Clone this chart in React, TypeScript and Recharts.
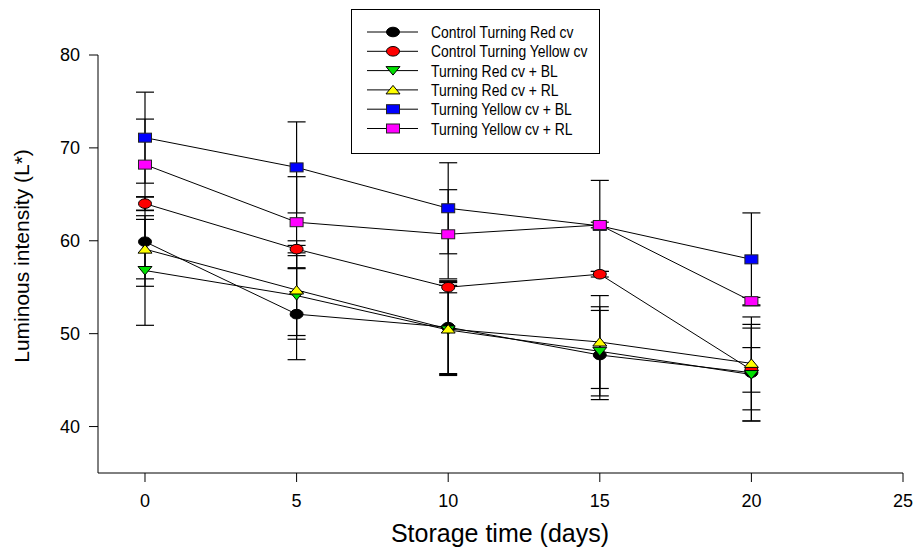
import React from "react";
import { LineChart, Line, XAxis, YAxis, ErrorBar, Legend, Label } from "recharts";

const days = [0, 5, 10, 15, 20];
const xTicks = [0, 5, 10, 15, 20, 25];
const yTicks = [40, 50, 60, 70, 80];

// mean L* values per treatment
const ctrlRed = [59.9, 52.1, 50.7, 47.7, 45.8];
const ctrlYellow = [64.0, 59.1, 55.0, 56.4, 46.1];
const redBL = [56.8, 54.1, 50.4, 48.1, 45.6];
const redRL = [59.1, 54.7, 50.5, 49.1, 46.8];
const yellowBL = [71.1, 67.9, 63.5, 61.6, 58.0];
const yellowRL = [68.2, 62.0, 60.7, 61.7, 53.5];

// error bar half ranges
const ctrlRedErr = [4.8, 4.9, 5.0, 4.8, 5.2];
const ctrlYellowErr = [0.75, 0.4, 0.6, 0.3, 2.4];
const redBLErr = [5.9, 4.3, 4.8, 4.8, 5.0];
const redRLErr = [3.2, 5.3, 5.0, 5.0, 5.0];
const yellowBLErr = [4.9, 4.9, 4.9, 4.9, 5.0];
const yellowRLErr = [4.9, 4.9, 4.8, 0.3, 0.4];

type Shape = "circle" | "down" | "up" | "square";

const series: { key: string; name: string; fill: string; shape: Shape; values: number[]; errs: number[] }[] = [
  { key: "ctrlRed", name: "Control Turning Red cv", fill: "#000000", shape: "circle", values: ctrlRed, errs: ctrlRedErr },
  { key: "ctrlYellow", name: "Control Turning Yellow cv", fill: "#ff0000", shape: "circle", values: ctrlYellow, errs: ctrlYellowErr },
  { key: "redBL", name: "Turning Red cv + BL", fill: "#00e000", shape: "down", values: redBL, errs: redBLErr },
  { key: "redRL", name: "Turning Red cv + RL", fill: "#ffff00", shape: "up", values: redRL, errs: redRLErr },
  { key: "yellowBL", name: "Turning Yellow cv + BL", fill: "#0000ff", shape: "square", values: yellowBL, errs: yellowBLErr },
  { key: "yellowRL", name: "Turning Yellow cv + RL", fill: "#ff00ff", shape: "square", values: yellowRL, errs: yellowRLErr },
];

const data = days.map((d, i) => {
  const row: Record<string, number> = { day: d };
  series.forEach((s) => {
    row[s.key] = s.values[i];
    row[s.key + "Err"] = s.errs[i];
  });
  return row;
});

const FONT = "'Liberation Sans', Arial, sans-serif";

function Marker({ cx, cy, shape, fill }: { cx: number; cy: number; shape: Shape; fill: string }) {
  const sw = 1;
  if (shape === "circle") return <ellipse cx={cx} cy={cy} rx={6.5} ry={4.8} fill={fill} stroke="#000" strokeWidth={sw} />;
  if (shape === "square") return <rect x={cx - 6.5} y={cy - 4.5} width={13} height={9} fill={fill} stroke="#222" strokeWidth={sw} />;
  if (shape === "down")
    return <path d={`M${cx - 7},${cy - 4} L${cx + 7},${cy - 4} L${cx},${cy + 4.5} Z`} fill={fill} stroke="#000" strokeWidth={sw} />;
  return <path d={`M${cx - 7},${cy + 4} L${cx + 7},${cy + 4} L${cx},${cy - 4.5} Z`} fill={fill} stroke="#000" strokeWidth={sw} />;
}

// legend text in the source is condensed, so squeeze Arial horizontally
const LegendBox = () => (
  <svg width={250} height={146} style={{ display: "block" }}>
    <rect x={0.5} y={0.5} width={248} height={144} fill="#fff" stroke="#000" strokeWidth={1} />
    {series.map((s, i) => {
      const y = 23 + i * 19.3;
      return (
        <g key={s.key}>
          <line x1={16} x2={67} y1={y} y2={y} stroke="#000" strokeWidth={1} />
          <Marker cx={42} cy={y} shape={s.shape} fill={s.fill} />
          <text
            transform={`translate(80 ${y + 6}) scale(0.82 1)`}
            fontFamily={FONT}
            fontSize={17}
            fill="#000"
          >
            {s.name}
          </text>
        </g>
      );
    })}
  </svg>
);

export default function App() {
  return (
    <div style={{ position: "absolute", left: 0, top: 0, background: "#fff" }}>
      <LineChart width={913} height={550} data={data} margin={{ top: 55, right: 10, left: 0, bottom: 0 }}>
        <XAxis
          dataKey="day"
          type="number"
          domain={[-1.55, 25]}
          ticks={xTicks}
          interval={0}
          allowDataOverflow
          height={77}
          tickSize={9}
          tickMargin={12}
          stroke="#000"
          tick={{ fontFamily: FONT, fontSize: 18, fill: "#000" }}
        >
          <Label
            content={() => (
              <text x={500} y={542} textAnchor="middle" fontFamily={FONT} fontSize={25} fill="#000">
                Storage time (days)
              </text>
            )}
          />
        </XAxis>
        <YAxis
          type="number"
          domain={[35, 80]}
          ticks={yTicks}
          interval={0}
          allowDataOverflow
          width={98}
          tickSize={9}
          tickMargin={9}
          stroke="#000"
          tick={{ fontFamily: FONT, fontSize: 18, fill: "#000" }}
        >
          <Label
            content={() => (
              <text x={29} y={256} transform="rotate(-90 29 256)" textAnchor="middle" fontFamily={FONT} fontSize={21} fill="#000">
                Luminous intensity (L*)
              </text>
            )}
          />
        </YAxis>
        <Legend
          layout="vertical"
          align="center"
          verticalAlign="middle"
          content={() => <LegendBox />}
          wrapperStyle={{ left: 351, top: 9, width: 250, height: 146 }}
        />
        {series.map((s) => (
          <Line
            key={s.key}
            dataKey={s.key}
            name={s.name}
            stroke="#000"
            strokeWidth={1}
            isAnimationActive={false}
            activeDot={false}
            dot={(p: any) => (
              <g key={`${s.key}-${p.index}`}>
                <Marker cx={p.cx} cy={p.cy} shape={s.shape} fill={s.fill} />
              </g>
            )}
          >
            <ErrorBar dataKey={s.key + "Err"} direction="y" width={9} stroke="#000" strokeWidth={1.2} isAnimationActive={false} />
          </Line>
        ))}
      </LineChart>
    </div>
  );
}
